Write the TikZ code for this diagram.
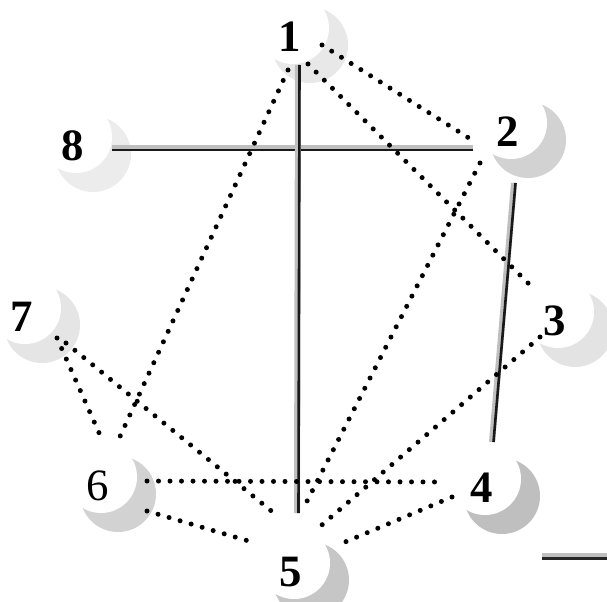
\documentclass[tikz,border=0pt]{standalone}
\usepackage{fontspec}
\setmainfont{Liberation Serif}
\usepackage{tikz}
\usetikzlibrary{positioning}

\newcommand{\moon}[2]{%
  \fill[#2] (#1) circle (38bp);
  \begin{scope}
    \clip (#1) circle (39.5bp);
    \fill[white] ([shift={(-17,-17)}]#1) circle (36bp);
  \end{scope}}

\begin{document}
\begin{tikzpicture}[
  x=1bp, y=-1bp,
  num/.style={font=\fontsize{45}{45}\selectfont\bfseries, inner sep=0pt},
  rule/.style={line width=6bp, gray!50},
  ruleedge/.style={line width=2.6bp, black!90},
  dotline/.style={line width=5bp, line cap=round, dash pattern=on 0pt off 11.5bp},
]
  \useasboundingbox (0,0) rectangle (607,602);

  \foreach \i/\x/\y/\s in {1/290/37/gray!18, 2/508/132/gray!35, 3/555/321/gray!22,
      4/482/488/gray!50, 5/291/572/gray!45, 6/98/486/gray!35,
      7/22/317/gray!20, 8/73/146/gray!15}{
    \coordinate (m\i) at (\x+20,\y+8);
    \moon{m\i}{\s}
  }

  \coordinate (h8) at (112,148);  \coordinate (h2) at (473,148);
  \coordinate (v1) at (298,65);   \coordinate (v5) at (297,513);
  \coordinate (v2) at (514,183);  \coordinate (v4) at (492,442);

  \coordinate (e12) at (322,45);  \coordinate (e21) at (472,140);
  \coordinate (e13) at (308,64);  \coordinate (e31) at (530,285);
  \coordinate (e16) at (288,70);  \coordinate (e61) at (117,443);
  \coordinate (e25) at (480,163); \coordinate (e52) at (302,511);
  \coordinate (e35) at (540,337); \coordinate (e53) at (316,530);
  \coordinate (e76) at (57,338);  \coordinate (e67) at (100,435);
  \coordinate (e75) at (66,343);  \coordinate (e57) at (275,514);
  \coordinate (e64) at (147,481); \coordinate (e46) at (440,482);
  \coordinate (e65) at (147,511); \coordinate (e56) at (252,542);
  \coordinate (e45) at (452,497); \coordinate (e54) at (338,545);

  \draw[rule] (h8) -- (h2);
  \draw[ruleedge] ([yshift=-2bp]h8) -- ([yshift=-2bp]h2);
  \draw[rule] (v1) -- (v5);
  \draw[ruleedge] ([xshift=1.5bp]v1) -- ([xshift=1.5bp]v5);
  \draw[rule] (v2) -- (v4);
  \draw[ruleedge] ([xshift=1.5bp]v2) -- ([xshift=1.5bp]v4);

  \draw[dotline] (e12) -- (e21);
  \draw[dotline] (e13) -- (e31);
  \draw[dotline] (e16) -- (e61);
  \draw[dotline] (e25) -- (e52);
  \draw[dotline] (e35) -- (e53);
  \draw[dotline] (e76) -- (e67);
  \draw[dotline] (e75) -- (e57);
  \draw[dotline] (e64) -- (e46);
  \draw[dotline] (e65) -- (e56);
  \draw[dotline] (e45) -- (e54);

  \fill[gray!50] (542,553) rectangle (607,557);
  \fill[black!85] (542,557) rectangle (607,560);

  \node[num] (n1) at (290,37) {1};
  \node[num] (n2) at (508,132) {2};
  \node[num] (n3) at (555,321) {3};
  \node[num] (n4) at (482,488) {4};
  \node[num] (n5) at (291,572) {5};
  \node[num, font=\fontsize{45}{45}\selectfont] (n6) at (98,486) {6};
  \node[num] (n7) at (22,317) {7};
  \node[num] (n8) at (73,146) {8};
\end{tikzpicture}
\end{document}
